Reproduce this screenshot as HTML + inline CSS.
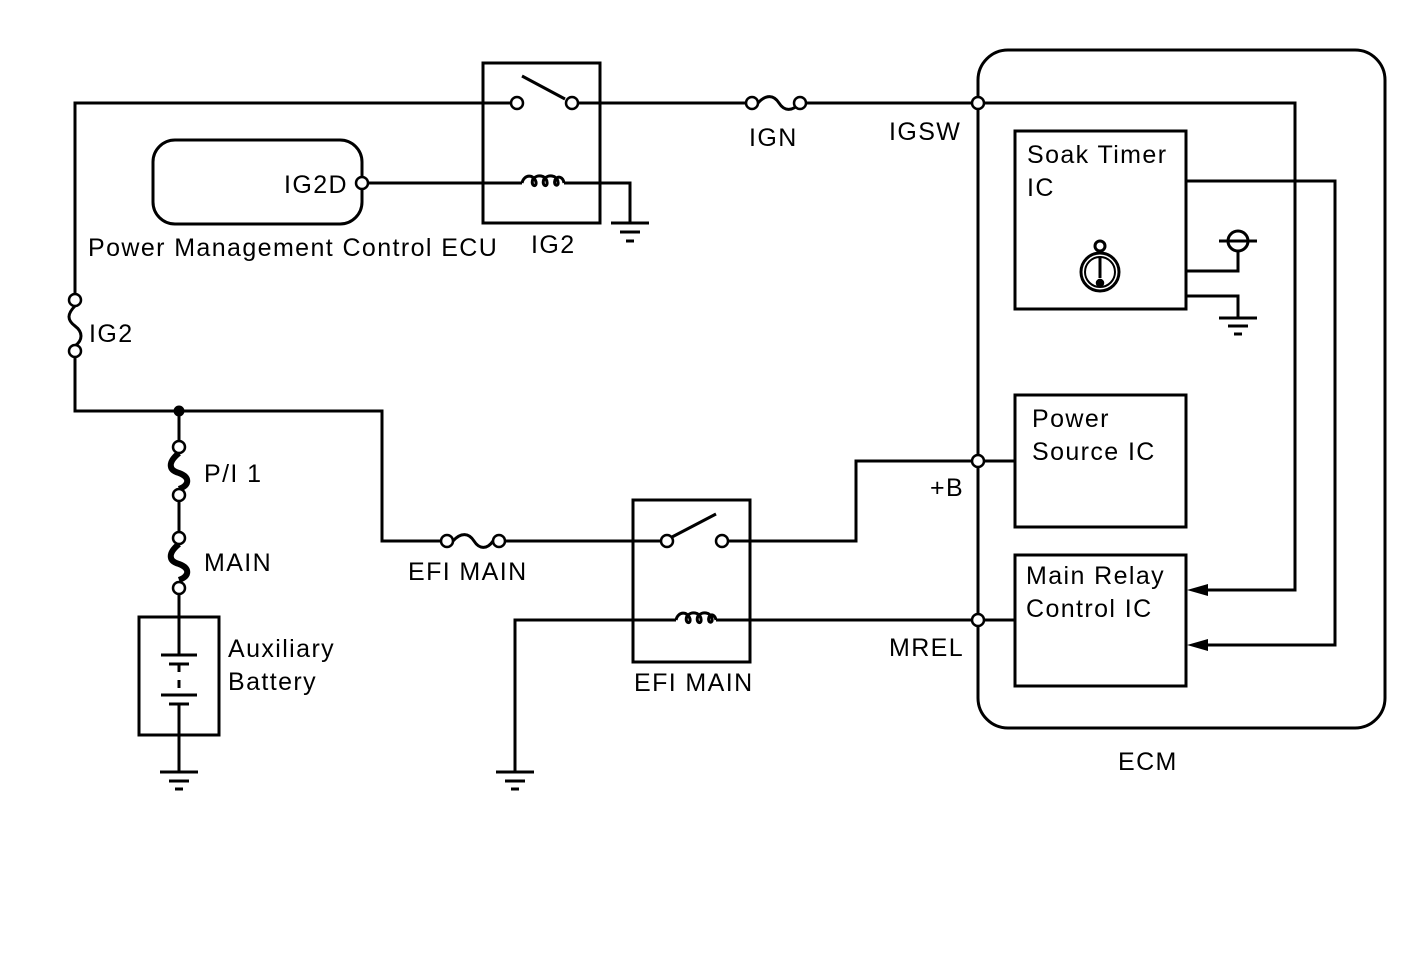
<!DOCTYPE html>
<html><head><meta charset="utf-8"><style>
html,body{margin:0;padding:0;background:#fff;}
svg{display:block;}
text{font-family:"Liberation Sans",Arial,sans-serif;font-size:25px;fill:#000;letter-spacing:1.4px;}
</style></head><body>
<svg width="1424" height="959" viewBox="0 0 1424 959" xmlns="http://www.w3.org/2000/svg">
<g fill="none" stroke="#000" stroke-width="3">
<polyline points="75,300 75,103 511,103"/>
<line x1="578" y1="103" x2="746" y2="103"/>
<line x1="806" y1="103" x2="972" y2="103"/>
<polyline points="984,103 1295,103 1295,590 1200,590"/>
<rect x="483" y="63" width="117" height="160"/>
<line x1="522" y1="76" x2="565" y2="99"/>
<line x1="368" y1="183" x2="522" y2="183"/>
<path d="M522,183 C524,174 534,174 536,182 C537,188 530,186 533,179 C537,174 546,175 547,182 C548,188 541,186 544,179 C548,174 557,175 558,182 C559,187 553,186 555,180 C558,175 563,177 564,183"/>
<polyline points="564,183 630,183 630,223"/>
<line x1="611" y1="223" x2="649" y2="223"/>
<line x1="620" y1="232" x2="640" y2="232"/>
<line x1="626" y1="241" x2="634" y2="241"/>
<rect x="153" y="140" width="209" height="84" rx="22"/>
<path d="M758,103 C766,94 774,95 779,103 C784,111 792,112 800,103"/>
<path d="M75,306 C67,314 67,320 75,326 C83,332 83,340 75,346"/>
<polyline points="75,357 75,411 382,411 382,541 441,541"/>
<circle cx="179" cy="411" r="4" fill="#000"/>
<line x1="179" y1="411" x2="179" y2="441"/>
<path d="M179,453 C168,462 168,470 179,473 C190,477 190,485 179,489" stroke-width="6"/>
<line x1="179" y1="501" x2="179" y2="532"/>
<path d="M179,544 C168,553 168,561 179,564 C190,568 190,576 179,580" stroke-width="6"/>
<line x1="179" y1="594" x2="179" y2="655"/>
<rect x="139" y="617" width="80" height="118"/>
<line x1="161" y1="655" x2="197" y2="655"/>
<line x1="169" y1="664" x2="189" y2="664"/>
<line x1="179" y1="664" x2="179" y2="672"/>
<line x1="179" y1="680" x2="179" y2="688"/>
<line x1="161" y1="695" x2="197" y2="695"/>
<line x1="169" y1="704" x2="189" y2="704"/>
<line x1="179" y1="704" x2="179" y2="772"/>
<line x1="160" y1="772" x2="198" y2="772"/>
<line x1="169" y1="781" x2="189" y2="781"/>
<line x1="175" y1="789" x2="183" y2="789"/>
<path d="M453,541 C461,532 469,533 474,541 C479,549 487,550 493,541"/>
<line x1="505" y1="541" x2="661" y2="541"/>
<rect x="633" y="500" width="117" height="162"/>
<line x1="672" y1="537" x2="716" y2="514"/>
<polyline points="728,541 856,541 856,461 972,461"/>
<line x1="984" y1="461" x2="1015" y2="461"/>
<polyline points="515,772 515,620 676,620"/>
<path d="M676,620 C678,611 688,611 690,619 C691,625 684,623 687,616 C691,611 700,612 701,619 C702,625 695,623 698,616 C702,611 711,612 712,619 C713,624 707,623 709,617 C711,613 715,615 716,620"/>
<line x1="716" y1="620" x2="972" y2="620"/>
<line x1="984" y1="620" x2="1015" y2="620"/>
<line x1="496" y1="772" x2="534" y2="772"/>
<line x1="505" y1="781" x2="525" y2="781"/>
<line x1="511" y1="789" x2="519" y2="789"/>
<rect x="978" y="50" width="407" height="678" rx="30"/>
<rect x="1015" y="131" width="171" height="178"/>
<rect x="1015" y="395" width="171" height="132"/>
<rect x="1015" y="555" width="171" height="131"/>
<polyline points="1186,181 1335,181 1335,645 1200,645"/>
<polyline points="1186,271 1238,271 1238,252"/>
<circle cx="1238" cy="241" r="10"/>
<line x1="1219" y1="241" x2="1257" y2="241"/>
<polyline points="1186,296 1238,296 1238,318"/>
<line x1="1219" y1="318" x2="1257" y2="318"/>
<line x1="1228" y1="326" x2="1248" y2="326"/>
<line x1="1234" y1="334" x2="1242" y2="334"/>
<circle cx="1100" cy="272" r="19"/>
<circle cx="1100" cy="272" r="15" stroke-width="2"/>
<circle cx="1100" cy="246" r="5"/>
<line x1="1100" y1="256" x2="1100" y2="278"/>
</g>
<polygon points="1187,590 1208,584 1208,596" fill="#000"/>
<polygon points="1187,645 1208,639 1208,651" fill="#000"/>
<g fill="#fff" stroke="#000" stroke-width="2.5">
<circle cx="517" cy="103" r="6"/><circle cx="572" cy="103" r="6"/>
<circle cx="752" cy="103" r="6"/><circle cx="800" cy="103" r="6"/>
<circle cx="978" cy="103" r="6"/><circle cx="362" cy="183" r="6"/>
<circle cx="75" cy="300" r="6"/><circle cx="75" cy="351" r="6"/>
<circle cx="179" cy="447" r="6"/><circle cx="179" cy="495" r="6"/>
<circle cx="179" cy="538" r="6"/><circle cx="179" cy="588" r="6"/>
<circle cx="447" cy="541" r="6"/><circle cx="499" cy="541" r="6"/>
<circle cx="667" cy="541" r="6"/><circle cx="722" cy="541" r="6"/>
<circle cx="978" cy="461" r="6"/><circle cx="978" cy="620" r="6"/>
<circle cx="1100" cy="283" r="3" fill="#000"/>
</g>
<text x="749" y="146">IGN</text>
<text x="889" y="140">IGSW</text>
<text x="284" y="193">IG2D</text>
<text x="88" y="256">Power Management Control ECU</text>
<text x="531" y="253">IG2</text>
<text x="89" y="342">IG2</text>
<text x="204" y="482">P/I 1</text>
<text x="204" y="571">MAIN</text>
<text x="228" y="657">Auxiliary</text>
<text x="228" y="690">Battery</text>
<text x="408" y="580">EFI MAIN</text>
<text x="634" y="691">EFI MAIN</text>
<text x="930" y="496">+B</text>
<text x="889" y="656">MREL</text>
<text x="1118" y="770">ECM</text>
<text x="1027" y="163">Soak Timer</text>
<text x="1027" y="196">IC</text>
<text x="1032" y="427">Power</text>
<text x="1032" y="460">Source IC</text>
<text x="1026" y="584">Main Relay</text>
<text x="1026" y="617">Control IC</text>
</svg>
</body></html>
